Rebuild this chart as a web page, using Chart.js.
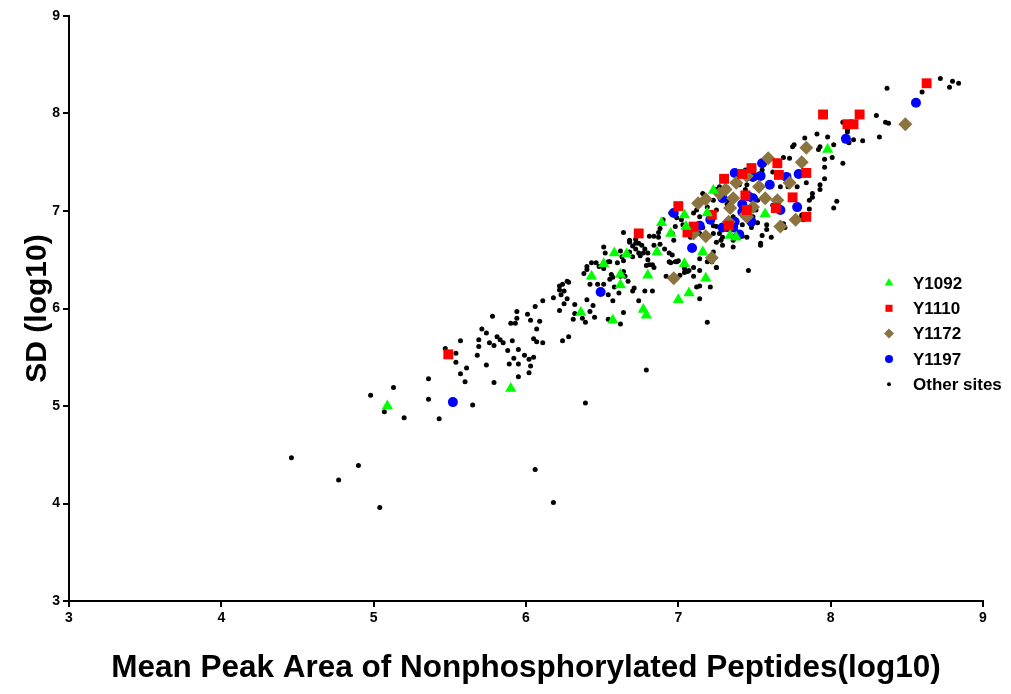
<!DOCTYPE html>
<html>
<head>
<meta charset="utf-8">
<script src="https://cdn.jsdelivr.net/npm/chart.js@4/dist/chart.umd.min.js"></script>
<style>
  html, body { margin: 0; padding: 0; background: #fff; }
  #wrap { width: 1011px; height: 694px; }
</style>
</head>
<body>
<div id="wrap"><canvas id="c" width="1011" height="694"></canvas></div>
<script>
// axis ticks
const xTicks = [3, 4, 5, 6, 7, 8, 9];
const yTicks = [3, 4, 5, 6, 7, 8, 9];

// [mean peak area, SD] (log10) per site
const y1092 = [[5.09,5.00],[5.90,5.18],[6.36,5.96],[6.43,6.33],[6.62,6.24],[6.62,6.35],[6.51,6.46],
  [6.77,5.99],[6.79,5.93],[6.80,6.34],[7.00,6.09],[7.07,6.16],[7.04,6.46],[7.18,6.31],[6.89,6.88],
  [6.95,6.77],[6.86,6.58],[6.58,6.57],[6.66,6.56],[7.16,6.58],[7.34,6.75],[7.04,6.96],[7.05,6.84],
  [7.23,7.21],[7.38,6.73],[7.57,6.97],[7.98,7.63],[7.19,6.98],[6.57,5.88]];

const y1110 = [[5.49,5.53],[6.74,6.77],[7.00,7.05],[7.06,6.78],[7.10,6.84],[7.22,6.96],[7.30,7.33],
  [7.42,7.38],[7.44,7.16],[7.45,7.01],[7.33,6.85],[7.65,7.49],[7.84,7.39],[7.66,7.37],[7.48,7.44],
  [7.75,7.14],[7.84,6.94],[7.95,7.99],[8.19,7.99],[8.11,7.89],[8.15,7.89],[8.63,8.31],[7.64,7.03]];

const y1172 = [[6.97,6.31],[7.22,6.52],[7.18,6.74],[7.13,7.08],[7.18,7.12],[7.27,7.18],[7.31,7.22],
  [7.36,7.13],[7.34,7.03],[7.38,7.29],[7.45,7.36],[7.49,7.04],[7.45,6.94],[7.10,6.77],[7.59,7.54],
  [7.81,7.50],[7.53,7.25],[7.73,7.29],[7.33,6.89],[7.44,6.96],[7.57,7.13],[7.65,7.11],[7.77,6.91],
  [7.67,6.84],[7.84,7.65],[8.49,7.89]];

const y1197 = [[5.52,5.04],[6.49,6.17],[7.09,6.62],[7.14,6.85],[6.97,6.98],[7.29,7.13],[7.37,7.39],
  [7.48,7.43],[7.46,7.15],[7.49,7.13],[7.42,6.99],[7.21,6.91],[7.29,6.83],[7.37,6.89],[7.40,6.76],
  [7.55,7.49],[7.79,7.38],[7.71,7.35],[7.49,7.35],[7.60,7.27],[7.54,7.36],[7.42,7.07],[7.48,6.89],
  [7.67,7.01],[7.78,7.04],[7.36,6.83],[8.10,7.74],[8.56,8.11]];

const otherSites = [[4.46,4.47],[4.90,4.39],[4.77,4.24],[5.04,3.96],[6.06,4.35],[6.18,4.01],[5.13,5.19],
  [4.98,5.11],[5.07,4.94],[5.20,4.88],[5.36,5.28],[5.36,5.07],[5.43,4.87],[5.65,5.01],[5.47,5.59],
  [5.54,5.54],[5.54,5.45],[5.57,5.33],[5.61,5.39],[5.60,5.25],[5.57,5.67],[5.79,5.24],[5.68,5.52],
  [5.69,5.61],[5.74,5.42],[5.71,5.79],[5.74,5.75],[5.78,5.92],[5.69,5.68],[5.76,5.65],[5.79,5.62],
  [5.81,5.71],[5.83,5.68],[5.85,5.65],[5.88,5.57],[5.89,5.43],[5.90,5.85],[5.91,5.67],[5.92,5.49],
  [5.95,5.43],[5.95,5.58],[5.95,5.30],[5.99,5.52],[6.02,5.48],[6.03,5.41],[6.02,5.34],[6.05,5.50],
  [6.05,5.69],[6.07,5.79],[6.07,5.66],[6.11,5.65],[6.09,5.87],[6.03,5.88],[6.01,5.94],[6.06,6.02],
  [5.94,5.97],[5.94,5.90],[6.11,6.08],[6.18,6.11],[6.22,6.23],[6.23,6.14],[6.25,6.18],[6.27,6.28],
  [6.28,6.27],[6.27,6.10],[6.25,6.05],[6.32,6.04],[6.22,5.98],[6.32,5.95],[6.31,5.89],[6.24,5.67],
  [6.28,5.71],[6.39,5.03],[6.79,5.37],[7.19,5.86],[5.93,5.85],
  [6.37,5.90],[6.39,5.86],[6.40,6.09],[6.42,5.97],[6.44,6.03],[6.45,5.91],[6.42,6.25],[6.47,6.25],
  [6.51,6.25],[6.38,6.36],[6.40,6.43],[6.43,6.47],[6.46,6.47],[6.54,6.14],[6.57,6.08],[6.61,6.16],
  [6.58,6.22],[6.65,6.33],[6.67,6.28],[6.64,6.38],[6.57,6.32],[6.55,6.30],[6.64,5.96],[6.54,5.89],
  [6.62,5.84],[6.51,6.41],[6.55,6.48],[6.71,6.21],[6.70,6.18],[6.74,6.08],[6.78,6.18],[6.83,6.18],
  [6.79,6.44],[6.81,6.45],[6.83,6.45],[6.92,6.33],[6.95,6.47],[6.99,6.48],[7.01,6.34],[7.04,6.37],
  [7.06,6.38],[7.10,6.33],[7.12,6.22],[7.14,6.23],[7.14,6.10],[7.21,6.22],[7.25,6.42],[7.14,6.39],
  [6.64,6.78],[6.84,6.74],[6.81,6.74],[6.87,6.78],[6.87,6.73],[6.88,6.82],[6.72,6.71],[6.68,6.68],
  [6.72,6.67],[6.74,6.67],[6.76,6.65],[6.70,6.64],[6.72,6.61],[6.78,6.61],[6.74,6.57],[6.77,6.57],
  [6.75,6.54],[6.80,6.57],[6.84,6.65],[6.88,6.66],[6.91,6.61],[6.94,6.57],[6.96,6.55],[6.94,6.48],
  [7.00,6.49],[6.98,6.48],[7.04,6.41],[7.07,6.39],[6.51,6.63],[6.52,6.57],[6.62,6.59],[6.63,6.53],
  [6.68,6.58],[6.70,6.53],[6.64,6.49],[6.60,6.47],[6.54,6.48],[6.48,6.43],[6.40,6.40],[6.24,6.25],
  [6.22,6.19],[6.56,6.35],[6.62,6.33],[6.80,6.50],[6.84,6.42],[7.19,6.48],[7.14,6.51],[7.22,6.48],
  [7.23,6.58],[7.25,6.42],[7.29,6.65],[7.28,6.70],[7.36,6.74],[6.68,6.70],[6.90,6.91],[6.95,6.98],
  [6.99,6.93],[7.02,6.91],[7.03,6.86],[6.98,6.84],[6.96,6.77],[6.97,6.70],
  [7.16,7.18],[7.27,7.25],[7.33,7.11],[7.40,7.27],[7.44,7.22],[7.42,7.08],[7.23,6.85],[7.14,6.77],
  [7.16,6.83],[7.25,6.84],[7.29,6.73],[7.25,6.68],[7.45,6.73],[7.48,6.83],[7.52,6.88],[7.69,7.55],
  [7.73,7.54],[7.76,7.68],[7.82,7.49],[7.46,7.39],[7.44,7.42],[7.67,7.25],[7.78,7.25],[7.84,7.29],
  [7.25,7.22],[7.32,7.07],[7.23,7.11],[7.19,7.04],[7.12,7.01],[7.10,6.98],[7.49,6.94],[7.81,6.96],
  [7.68,6.86],[7.58,6.86],[7.58,6.81],[7.55,6.75],[7.42,6.86],[7.42,6.74],[7.54,6.65],[7.36,6.63],
  [8.08,7.91],[8.11,7.83],[8.15,7.73],[8.12,7.70],[8.21,7.72],[8.30,7.98],[8.36,7.91],[8.38,7.90],
  [8.32,7.76],[8.37,8.26],[8.60,8.22],[8.72,8.36],[8.80,8.33],[8.84,8.31],[8.78,8.27],[7.83,7.75],
  [7.91,7.79],[7.98,7.76],[8.02,7.68],[7.93,7.66],[7.96,7.53],[8.01,7.55],[8.08,7.49],[7.96,7.33],
  [7.93,7.22],[8.04,7.10],[8.02,7.03],[7.86,7.02],[7.81,6.94],[7.82,6.91],[7.70,6.83],[7.54,6.67],
  [7.88,7.14],[7.86,7.11],[7.88,7.18],[7.46,6.39],
  [7.69,6.87],[7.72,7.25],[7.93,7.27],[7.96,7.45],[7.92,7.63],[7.75,7.66],[8.11,7.81],[7.62,7.40],
  [7.55,7.42],[7.45,7.27],[7.62,7.06],[7.61,6.73],[7.27,6.77],[7.14,6.94],[7.08,6.73],[7.23,6.77],
  [7.10,6.42],[7.36,6.70],[7.25,7.01],[7.32,7.24],[7.52,7.11],[7.48,7.03],[7.36,6.94],[7.32,6.81],
  [7.51,7.01]];

const toPts = arr => arr.map(p => ({ x: p[0], y: p[1] }));

const boldFont = '"Liberation Sans", Arial, sans-serif';

// legend drawn over the plot area, like the original figure
const sideLegend = {
  id: 'sideLegend',
  afterDraw(chart) {
    const ctx = chart.ctx;
    ctx.save();
    ctx.font = 'bold 17px ' + boldFont;
    ctx.textBaseline = 'middle';
    chart.data.datasets.forEach((ds, i) => {
      const y = 283 + i * 25.3;
      ctx.fillStyle = ds.backgroundColor;
      ctx.strokeStyle = ds.backgroundColor;
      Chart.helpers.drawPoint(ctx, {
        pointStyle: ds.pointStyle, radius: ds.legendRadius, borderWidth: 0, rotation: 0
      }, 889, y);
      ctx.fillStyle = '#000';
      ctx.fillText(ds.label, 913, y + 1);
    });
    ctx.restore();
  }
};

new Chart(document.getElementById('c'), {
  type: 'scatter',
  data: {
    datasets: [
      { label: 'Y1092', data: toPts(y1092), pointStyle: 'triangle', backgroundColor: '#00ff00',
        borderColor: '#00ff00', borderWidth: 0, pointRadius: 6.5, legendRadius: 5 },
      { label: 'Y1110', data: toPts(y1110), pointStyle: 'rect', backgroundColor: '#ff0000',
        borderColor: '#ff0000', borderWidth: 0, pointRadius: 7, legendRadius: 5 },
      { label: 'Y1172', data: toPts(y1172), pointStyle: 'rectRot', backgroundColor: '#8b7440',
        borderColor: '#8b7440', borderWidth: 0, pointRadius: 7, legendRadius: 5 },
      { label: 'Y1197', data: toPts(y1197), pointStyle: 'circle', backgroundColor: '#0000ff',
        borderColor: '#0000ff', borderWidth: 0, pointRadius: 5, legendRadius: 4 },
      { label: 'Other sites', data: toPts(otherSites), pointStyle: 'circle', backgroundColor: '#000000',
        borderColor: '#000000', borderWidth: 0, pointRadius: 2.5, legendRadius: 2 }
    ]
  },
  options: {
    responsive: false,
    animation: false,
    events: [],
    layout: { padding: { left: 0, right: 28, top: 16, bottom: 0 } },
    plugins: { legend: { display: false }, tooltip: { enabled: false } },
    scales: {
      x: {
        type: 'linear', min: 3, max: 9,
        afterFit: s => { s.height = 93; },
        afterBuildTicks: s => { s.ticks = xTicks.map(v => ({ value: v })); },
        border: { display: true, color: '#000', width: 2 },
        grid: { drawOnChartArea: false, drawTicks: true, tickLength: 6, color: '#000', lineWidth: 2 },
        ticks: { color: '#000', padding: 3, font: { family: boldFont, weight: 'bold', size: 14 } },
        title: {
          display: true, text: 'Mean Peak Area of Nonphosphorylated Peptides(log10)', color: '#000',
          padding: { top: 0, bottom: 7 }, font: { family: boldFont, weight: 'bold', size: 31.5 }
        }
      },
      y: {
        type: 'linear', min: 3, max: 9,
        afterFit: s => { s.width = 69; },
        afterBuildTicks: s => { s.ticks = yTicks.map(v => ({ value: v })); },
        border: { display: true, color: '#000', width: 2 },
        grid: { drawOnChartArea: false, drawTicks: true, tickLength: 6, color: '#000', lineWidth: 2 },
        ticks: { color: '#000', padding: 3, font: { family: boldFont, weight: 'bold', size: 14 } },
        title: {
          display: true, text: 'SD (log10)', color: '#000',
          padding: { top: 20, bottom: 0 }, font: { family: boldFont, weight: 'bold', size: 30 }
        }
      }
    }
  },
  plugins: [sideLegend]
});
</script>
</body>
</html>
